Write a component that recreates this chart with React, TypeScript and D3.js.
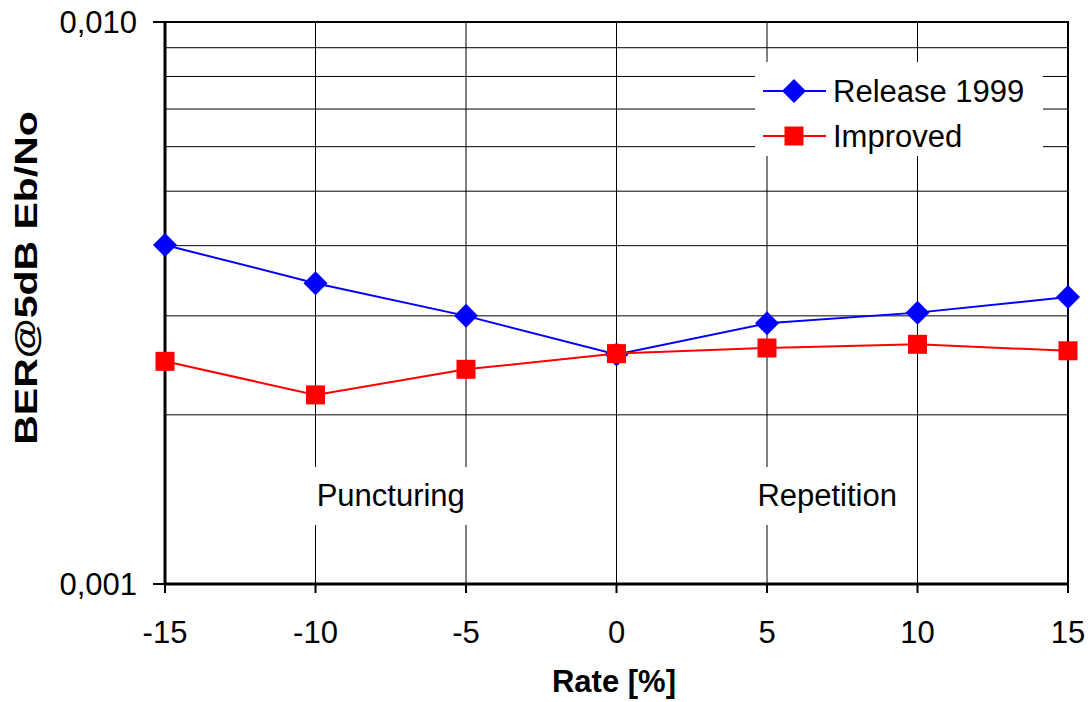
import React from "react";
import * as d3 from "d3";

const rates = [-15, -10, -5, 0, 5, 10, 15];
const release1999 = [0.00401, 0.00343, 0.003, 0.00256, 0.00291, 0.00304, 0.00324];
const improved = [0.00249, 0.00217, 0.00241, 0.00257, 0.00263, 0.00267, 0.0026];
const xTicks = [-15, -10, -5, 0, 5, 10, 15];
const yMajorTicks = [0.001, 0.01];
const yMajorLabels = ["0,001", "0,010"];
const yMinorTicks = [0.002, 0.003, 0.004, 0.005, 0.006, 0.007, 0.008, 0.009];
const seriesNames = ["Release 1999", "Improved"];
const regionLabels = [
  { text: "Puncturing", at: -7.5 },
  { text: "Repetition", at: 7 },
];

const W = 1090, H = 702;
const M = { left: 165, right: 1068, top: 22, bottom: 584 };
const FONT = "Arial, 'Liberation Sans', sans-serif";
const FS = 31;

export default function App() {
  const x = d3.scaleLinear().domain([-15, 15]).range([M.left, M.right]);
  const y = d3.scaleLog().domain([0.001, 0.01]).range([M.bottom, M.top]);
  const line = d3.line<number>().x((_, i) => x(rates[i])).y((d) => y(d));
  const diamond = (cx: number, cy: number, r: number) =>
    `M${cx},${cy - r}L${cx + r},${cy}L${cx},${cy + r}L${cx - r},${cy}Z`;
  const sq = 9.5;
  const dr = 12;

  return (
    <svg width={W} height={H} style={{ position: "absolute", left: 0, top: 0, background: "#fff" }} fontFamily={FONT}>
      <rect x={0} y={0} width={W} height={H} fill="#fff" />
      {yMinorTicks.concat(yMajorTicks).map((t) => (
        <line key={"h" + t} x1={M.left} x2={M.right} y1={y(t)} y2={y(t)} stroke="#000" strokeWidth={1} />
      ))}
      {xTicks.map((t) => (
        <line key={"v" + t} x1={x(t)} x2={x(t)} y1={M.top} y2={M.bottom} stroke="#000" strokeWidth={1} />
      ))}
      <rect x={M.left} y={M.top} width={M.right - M.left} height={M.bottom - M.top} fill="none" stroke="#000" strokeWidth={2} />
      {regionLabels.map((r) => (
        <g key={r.text}>
          <rect x={x(r.at) - 86} y={467} width={172} height={58} fill="#fff" />
          <text x={x(r.at)} y={506} textAnchor="middle" fontSize={FS} fill="#000">{r.text}</text>
        </g>
      ))}
      <line x1={M.left} x2={M.left} y1={M.top} y2={M.bottom} stroke="#000" strokeWidth={3} />
      <line x1={M.left} x2={M.right} y1={M.bottom} y2={M.bottom} stroke="#000" strokeWidth={3} />
      {yMajorTicks.map((t, i) => (
        <g key={"yt" + t}>
          <line x1={M.left - 12} x2={M.left} y1={y(t)} y2={y(t)} stroke="#000" strokeWidth={2} />
          <text x={137} y={y(t) + 11} textAnchor="end" fontSize={FS} fill="#000">{yMajorLabels[i]}</text>
        </g>
      ))}
      {xTicks.map((t) => (
        <g key={"xt" + t}>
          <line x1={x(t)} x2={x(t)} y1={M.bottom} y2={M.bottom + 9} stroke="#000" strokeWidth={2} />
          <text x={x(t)} y={643} textAnchor="middle" fontSize={FS} fill="#000">{t}</text>
        </g>
      ))}
      <text x={614} y={692} textAnchor="middle" fontSize={FS} fontWeight="bold" fill="#000">Rate [%]</text>
      <text transform={`translate(37,278) rotate(-90) scale(1.28,1)`} textAnchor="middle" fontSize={32} fontWeight="bold" fill="#000">BER@5dB Eb/No</text>
      <path d={line(release1999) || ""} fill="none" stroke="#0000ff" strokeWidth={2} />
      {release1999.map((v, i) => (
        <path key={"d" + i} d={diamond(x(rates[i]), y(v), dr)} fill="#0000ff" />
      ))}
      <path d={line(improved) || ""} fill="none" stroke="#ff0000" strokeWidth={2} />
      {improved.map((v, i) => (
        <rect key={"s" + i} x={x(rates[i]) - sq} y={y(v) - sq} width={sq * 2} height={sq * 2} fill="#ff0000" />
      ))}
      <rect x={755} y={62} width={288} height={94} fill="#fff" />
      <line x1={763} x2={826} y1={91} y2={91} stroke="#0000ff" strokeWidth={2} />
      <path d={diamond(794, 91, dr)} fill="#0000ff" />
      <text x={833} y={102} fontSize={FS} fill="#000">{seriesNames[0]}</text>
      <line x1={763} x2={826} y1={136} y2={136} stroke="#ff0000" strokeWidth={2} />
      <rect x={794 - sq} y={136 - sq} width={sq * 2} height={sq * 2} fill="#ff0000" />
      <text x={833} y={147} fontSize={FS} fill="#000">{seriesNames[1]}</text>
    </svg>
  );
}
